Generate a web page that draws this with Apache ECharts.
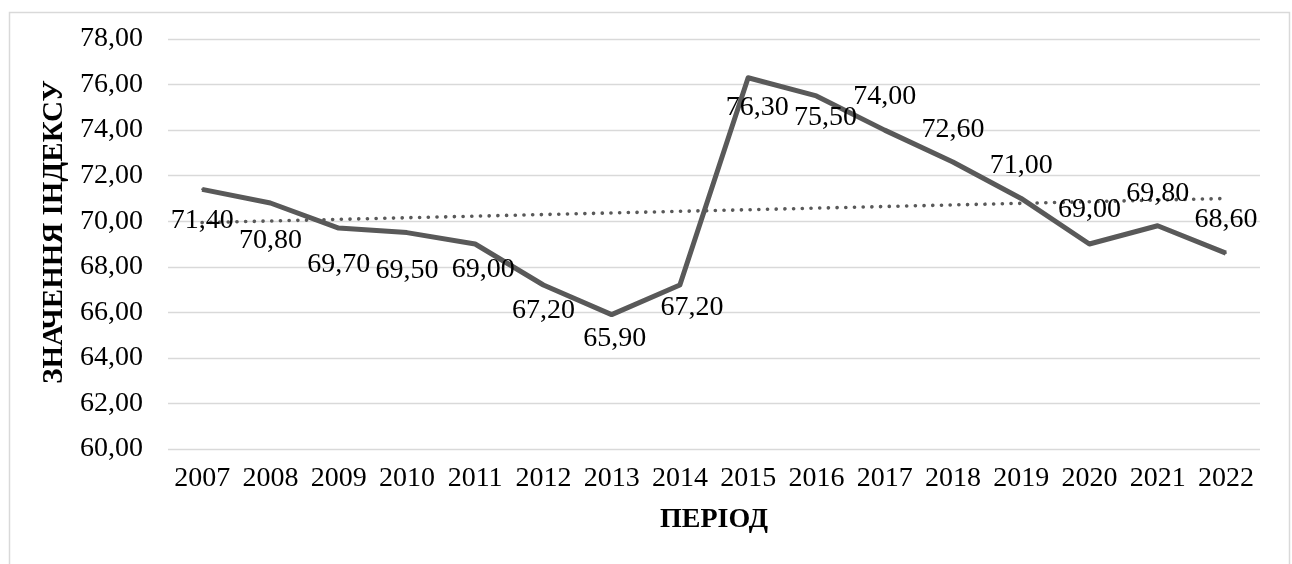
<!DOCTYPE html>
<html>
<head>
<meta charset="utf-8">
<script src="https://cdn.jsdelivr.net/npm/echarts@6/dist/echarts.min.js"></script>
<style>
  html, body { margin: 0; padding: 0; background: #ffffff; }
  #chart { width: 1292px; height: 564px; }
</style>
</head>
<body>
<div id="chart"></div>
<script>
// Index value by year
const years = ['2007', '2008', '2009', '2010', '2011', '2012', '2013', '2014',
               '2015', '2016', '2017', '2018', '2019', '2020', '2021', '2022'];
const indexValues = [71.4, 70.8, 69.7, 69.5, 69.0, 67.2, 65.9, 67.2,
                     76.3, 75.5, 74.0, 72.6, 71.0, 69.0, 69.8, 68.6];

// Y axis range
const yMin = 60;
const yMax = 78;
const yStep = 2;

// Where each value label sits relative to its point, [dx, dy] in pixels
const labelOffsets = [
  [0, 31], [0, 38], [0, 37], [0, 38], [8, 26], [0, 26], [3, 24], [12, 23],
  [9, 30], [9, 22], [0, -33], [0, -32], [0, -33], [0, -34], [0, -32], [0, -33]
];

// Linear (least-squares) trend over the series
function linearTrend(values) {
  const n = values.length;
  const mx = (n - 1) / 2;
  const my = values.reduce((a, b) => a + b, 0) / n;
  let sxy = 0, sxx = 0;
  values.forEach((v, i) => { sxy += (i - mx) * (v - my); sxx += (i - mx) * (i - mx); });
  const slope = sxy / sxx;
  return values.map((_, i) => +(my + slope * (i - mx)).toFixed(3));
}
const trendValues = linearTrend(indexValues);

const fmt = v => v.toFixed(2).replace('.', ',');
const serif = '"Liberation Serif", "Times New Roman", serif';
const lineColor = '#595959';

const chart = echarts.init(document.getElementById('chart'), null, { renderer: 'canvas' });

chart.setOption({
  animation: false,
  backgroundColor: '#ffffff',
  textStyle: { fontFamily: serif },
  graphic: [{
    type: 'rect',
    left: 7, top: 10,
    shape: { width: 1280, height: 570 },
    style: { fill: 'none', stroke: '#d9d9d9', lineWidth: 1.5 },
    silent: true
  }],
  grid: { left: 168, right: 32, top: 39, bottom: 115 },
  xAxis: {
    type: 'category',
    data: years,
    boundaryGap: true,
    axisLine: { show: false },
    axisTick: { show: false },
    axisLabel: { color: '#000', fontSize: 28, fontFamily: serif, margin: 16, interval: 0 },
    name: 'ПЕРІОД',
    nameLocation: 'middle',
    nameGap: 57,
    nameTextStyle: { color: '#000', fontSize: 28, fontWeight: 'bold', fontFamily: serif }
  },
  yAxis: {
    type: 'value',
    min: yMin, max: yMax, interval: yStep,
    axisLine: { show: false },
    axisTick: { show: false },
    splitLine: { lineStyle: { color: '#d9d9d9', width: 1.3 } },
    axisLabel: { color: '#000', fontSize: 28, fontFamily: serif, margin: 25, formatter: v => fmt(v) },
    name: 'ЗНАЧЕННЯ ІНДЕКСУ',
    nameLocation: 'middle',
    nameRotate: 90,
    nameGap: 99,
    nameTextStyle: { color: '#000', fontSize: 29, fontWeight: 'bold', fontFamily: serif, padding: [0, 0, 0, 24] }
  },
  series: [
    {
      name: 'trend',
      type: 'line',
      data: trendValues,
      symbol: 'none',
      silent: true,
      z: 1,
      lineStyle: { color: lineColor, width: 3.6, type: [0.1, 8.6], cap: 'round' }
    },
    {
      name: 'index',
      type: 'line',
      z: 2,
      data: indexValues.map((v, i) => ({
        value: v,
        label: { offset: labelOffsets[i] }
      })),
      symbol: 'circle',
      symbolSize: 2,
      itemStyle: { color: lineColor },
      lineStyle: { color: lineColor, width: 5, join: 'round' },
      label: {
        show: true,
        position: 'inside',
        color: '#000',
        fontSize: 28,
        fontFamily: serif,
        formatter: p => fmt(p.value)
      }
    }
  ]
});
</script>
</body>
</html>
